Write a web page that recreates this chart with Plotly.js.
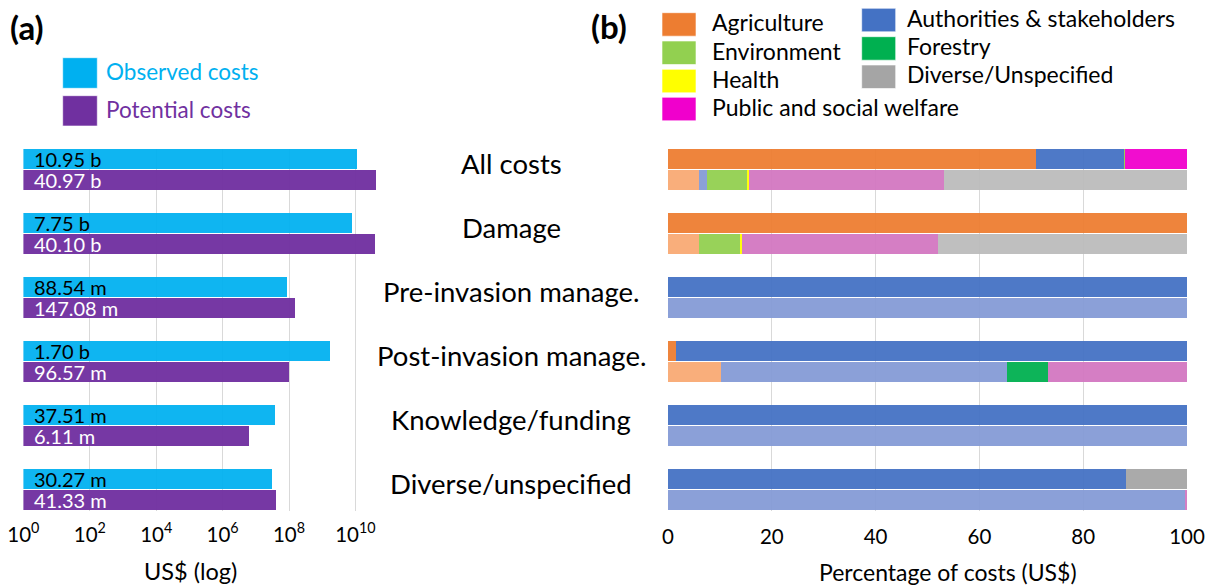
<!DOCTYPE html>
<html>
<head>
<meta charset="utf-8">
<script src="https://cdn.plot.ly/plotly-3.0.1.min.js"></script>
<style>html,body{margin:0;padding:0;background:#fff;}#chart{width:1215px;height:586px;}</style>
</head>
<body>
<div id="chart"></div>
<script>
// ---------- DATA ----------
const categories = ['All costs', 'Damage', 'Pre-invasion manage.', 'Post-invasion manage.', 'Knowledge/funding', 'Diverse/unspecified'];
// Panel (a): total costs in US$
const observedCosts  = [10.95e9, 7.75e9, 88.54e6, 1.70e9, 37.51e6, 30.27e6];
const potentialCosts = [40.97e9, 40.10e9, 147.08e6, 96.57e6, 6.11e6, 41.33e6];
// Panel (b): share of costs per sector (%), observed (top bar) and potential (bottom bar)
const sectors = ['Agriculture', 'Authorities & stakeholders', 'Environment', 'Forestry', 'Health', 'Public and social welfare', 'Diverse/Unspecified'];
const agricultureObs = [71.0, 100, 0, 1.5, 0, 0];
const agriculturePot = [5.9, 5.9, 0, 10.2, 0, 0];
const authoritiesObs = [16.8, 0, 100, 98.5, 100, 88.3];
const authoritiesPot = [1.7, 0, 100, 55.1, 100, 99.6];
const environmentObs = [0.2, 0, 0, 0, 0, 0];
const environmentPot = [7.7, 8.0, 0, 0, 0, 0];
const forestryObs = [0, 0, 0, 0, 0, 0];
const forestryPot = [0, 0, 0, 8.0, 0, 0];
const healthObs = [0, 0, 0, 0, 0, 0];
const healthPot = [0.3, 0.4, 0, 0, 0, 0];
const publicObs = [12.0, 0, 0, 0, 0, 0];
const publicPot = [37.6, 37.8, 0, 26.7, 0, 0.4];
const diverseObs = [0, 0, 0, 0, 0, 11.7];
const diversePot = [46.8, 47.9, 0, 0, 0, 0];
const xTicksLeft = [1, 1e2, 1e4, 1e6, 1e8, 1e10];
const xTickTextLeft = ['10<sup>0</sup>', '10<sup>2</sup>', '10<sup>4</sup>', '10<sup>6</sup>', '10<sup>8</sup>', '10<sup>10</sup>'];
const xTicksRight = [0, 20, 40, 60, 80, 100];

// ---------- STYLE ----------
const FONT = 'Lato, "Open Sans", sans-serif';
const W = 1215, H = 586;
const px = x => x / W;
const py = y => 1 - y / H;
const sectorColors = ['#ED7D31', '#4472C4', '#92D050', '#00B050', '#FFFF00', '#F000CC', '#A5A5A5'];
const sectorObsColors = ['rgba(237,125,49,0.95)', 'rgba(68,114,196,0.95)', 'rgba(146,208,80,0.95)', 'rgba(0,176,80,0.95)', 'rgba(255,255,0,0.95)', 'rgba(240,0,204,0.95)', 'rgba(165,165,165,0.95)'];
const sectorPotColors = ['rgba(249,170,116,0.95)', 'rgba(132,154,214,0.94)', 'rgba(146,208,80,0.95)', 'rgba(0,176,80,0.95)', 'rgba(255,255,0,0.95)', 'rgba(210,118,192,0.94)', 'rgba(188,188,188,0.95)'];
const obsSeries = [agricultureObs, authoritiesObs, environmentObs, forestryObs, healthObs, publicObs, diverseObs];
const potSeries = [agriculturePot, authoritiesPot, environmentPot, forestryPot, healthPot, publicPot, diversePot];

const OFF = 0.164, BW = 0.305;
const yObs = categories.map((c, i) => i - OFF);
const yPot = categories.map((c, i) => i + OFF);
const fmt = v => v >= 1e9 ? (v / 1e9).toFixed(2) + ' b' : (v / 1e6).toFixed(2) + ' m';

const traces = [];
traces.push({type: 'bar', orientation: 'h', x: observedCosts, y: yObs, base: 1, width: BW,
  marker: {color: 'rgba(0,176,240,0.94)', line: {width: 0}}, xaxis: 'x', yaxis: 'y', hoverinfo: 'skip', showlegend: false});
traces.push({type: 'bar', orientation: 'h', x: potentialCosts, y: yPot, base: 1, width: BW,
  marker: {color: 'rgba(112,48,160,0.96)', line: {width: 0}}, xaxis: 'x', yaxis: 'y', hoverinfo: 'skip', showlegend: false});

sectors.forEach((s, k) => {
  traces.push({type: 'bar', orientation: 'h', name: s,
    x: obsSeries[k].concat(potSeries[k]),
    y: yObs.concat(yPot), width: BW,
    marker: {color: categories.map(() => sectorObsColors[k]).concat(categories.map(() => sectorPotColors[k])), line: {width: 0}},
    xaxis: 'x2', yaxis: 'y2', hoverinfo: 'skip', showlegend: false});
});

const annotations = [];
const shapes = [];
// value labels inside bars (panel a) and category labels
categories.forEach((c, i) => {
  annotations.push({xref: 'x', yref: 'y', x: 0, y: yObs[i], text: fmt(observedCosts[i]), showarrow: false,
    xanchor: 'left', yanchor: 'middle', xshift: 9, yshift: 0, font: {family: FONT, size: 20, color: '#000'}});
  annotations.push({xref: 'x', yref: 'y', x: 0, y: yPot[i], text: fmt(potentialCosts[i]), showarrow: false,
    xanchor: 'left', yanchor: 'middle', xshift: 9, yshift: 0, font: {family: FONT, size: 20, color: '#fff'}});
  annotations.push({xref: 'paper', yref: 'y', x: px(511), y: i, text: c, showarrow: false,
    xanchor: 'center', yanchor: 'middle', yshift: 6, font: {family: FONT, size: 27.5, color: '#000'}});
});
// axis titles
annotations.push({xref: 'paper', yref: 'paper', x: px(190), y: py(571), text: 'US$ (log)', showarrow: false,
  xanchor: 'center', yanchor: 'middle', font: {family: FONT, size: 23.5, color: '#000'}});
annotations.push({xref: 'paper', yref: 'paper', x: px(948), y: py(572), text: 'Percentage of costs (US$)', showarrow: false,
  xanchor: 'center', yanchor: 'middle', font: {family: FONT, size: 23, color: '#000'}});
// panel labels
annotations.push({xref: 'paper', yref: 'paper', x: px(26.5), y: py(27), text: '<b>(a)</b>', showarrow: false,
  xanchor: 'center', yanchor: 'middle', font: {family: FONT, size: 33, color: '#000'}});
annotations.push({xref: 'paper', yref: 'paper', x: px(609), y: py(26), text: '<b>(b)</b>', showarrow: false,
  xanchor: 'center', yanchor: 'middle', font: {family: FONT, size: 33, color: '#000'}});

// legend (a)
const legA = [{label: 'Observed costs', color: '#00B0F0', y0: 57.7, y1: 88.3},
              {label: 'Potential costs', color: '#7030A0', y0: 95.7, y1: 126}];
legA.forEach(l => {
  shapes.push({type: 'rect', xref: 'paper', yref: 'paper', x0: px(62.7), x1: px(97.3), y0: py(l.y1), y1: py(l.y0),
    fillcolor: l.color, line: {color: 'rgba(255,255,255,0.6)', width: 1}});
  annotations.push({xref: 'paper', yref: 'paper', x: px(104), y: py((l.y0 + l.y1) / 2 - 1.5), text: l.label, showarrow: false,
    xanchor: 'left', yanchor: 'middle', font: {family: FONT, size: 22.5, color: l.color}});
});
// legend (b)
const legBpos = [
  {k: 0, x: 662, tx: 709.5, y0: 12.7},
  {k: 2, x: 662, tx: 709.5, y0: 41},
  {k: 4, x: 662, tx: 709.5, y0: 69.3},
  {k: 5, x: 662, tx: 709.5, y0: 97.3},
  {k: 1, x: 861.7, tx: 904.5, y0: 8.3},
  {k: 3, x: 861.7, tx: 904.5, y0: 36.7},
  {k: 6, x: 861.7, tx: 904.5, y0: 65}
];
legBpos.forEach(p => {
  shapes.push({type: 'rect', xref: 'paper', yref: 'paper', x0: px(p.x), x1: px(p.x + 34), y0: py(p.y0 + 23.5), y1: py(p.y0),
    fillcolor: sectorColors[p.k], line: {color: 'rgba(255,255,255,0.6)', width: 1}});
  annotations.push({xref: 'paper', yref: 'paper', x: px(p.tx), y: py(p.y0 + 9.5), text: sectors[p.k], showarrow: false,
    xanchor: 'left', yanchor: 'middle', font: {family: FONT, size: 23, color: '#000'}});
});

const yDom = [py(510.5), py(148.5)];
const yRange = [(510.5 - 169.5) / 64, (148.5 - 169.5) / 64];
const layout = {
  width: W, height: H,
  margin: {l: 0, r: 0, t: 0, b: 0},
  paper_bgcolor: '#fff', plot_bgcolor: 'rgba(0,0,0,0)',
  barmode: 'stack',
  showlegend: false,
  font: {family: FONT, color: '#000'},
  xaxis: {type: 'log', domain: [px(23.4), px(388.6)], range: [0, 11], anchor: 'y',
    tickvals: xTicksLeft, ticktext: xTickTextLeft, ticks: '', showline: false, zeroline: false,
    showgrid: true, gridcolor: '#D9D9D9', gridwidth: 1, ticklabelstandoff: 10,
    tickfont: {family: FONT, size: 20.5, color: '#000'}},
  yaxis: {domain: yDom, range: yRange, anchor: 'x', showticklabels: false, showgrid: false, zeroline: false, showline: false, ticks: ''},
  xaxis2: {domain: [px(668), px(1187)], range: [0, 100], anchor: 'y2',
    tickvals: xTicksRight, ticks: '', showline: false, zeroline: false,
    showgrid: true, gridcolor: '#D9D9D9', gridwidth: 1, ticklabelstandoff: 12,
    tickfont: {family: FONT, size: 20.5, color: '#000'}},
  yaxis2: {domain: yDom, range: yRange, anchor: 'x2', showticklabels: false, showgrid: false, zeroline: false, showline: false, ticks: ''},
  annotations: annotations,
  shapes: shapes
};
Plotly.newPlot('chart', traces, layout, {displayModeBar: false, staticPlot: true});
</script>
</body>
</html>
